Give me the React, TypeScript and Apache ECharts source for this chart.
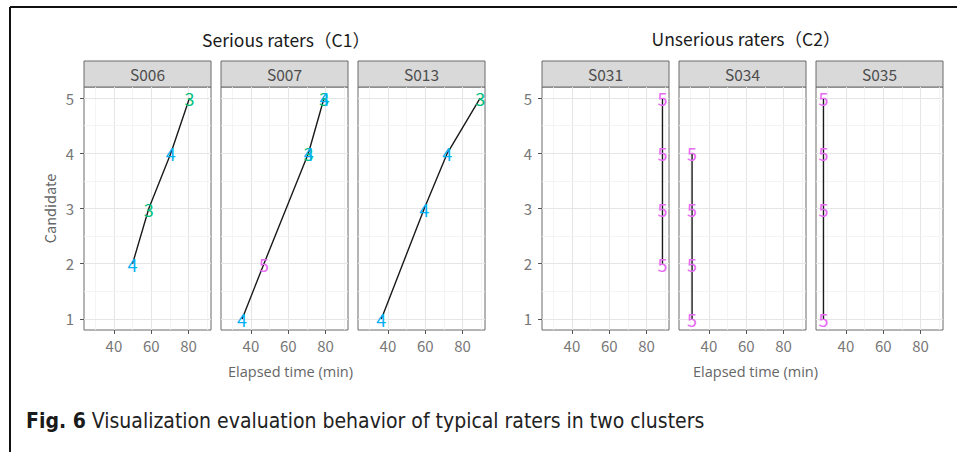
import React, { useEffect, useRef } from "react";
import * as echarts from "echarts";

// ---- data ----
const panelNames = ["S006", "S007", "S013", "S031", "S034", "S035"];
const groupTitles = ["Serious raters（C1）", "Unserious raters（C2）"];
const xAxisTitle = "Elapsed time (min)";
const yAxisTitle = "Candidate";
const captionBold = "Fig. 6";
const captionText = " Visualization evaluation behavior of typical raters in two clusters";

const xTicks = [40, 60, 80];
const yTicks = [1, 2, 3, 4, 5];
const xMinorGrid = [30, 50, 70, 90];
const yMinorGrid = [1.5, 2.5, 3.5, 4.5];

const s006Time = [50, 58.7, 70.5, 80.5];
const s006Cand = [2, 3, 4, 5];
const s006Score = [4, 3, 4, 3];

const s007Time = [35.3, 47, 70.8, 71, 79.2, 79.4];
const s007Cand = [1, 2, 4, 4, 5, 5];
const s007Score = [4, 5, 3, 4, 3, 4];

const s013Time = [36.5, 59.5, 71.8, 89.4];
const s013Cand = [1, 3, 4, 5];
const s013Score = [4, 4, 4, 3];

const s031Time = [88.5, 88.5, 88.5, 88.5];
const s031Cand = [2, 3, 4, 5];
const s031Score = [5, 5, 5, 5];

const s034Time = [31, 31, 31, 31];
const s034Cand = [1, 2, 3, 4];
const s034Score = [5, 5, 5, 5];

const s035Time = [28, 28, 28, 28];
const s035Cand = [1, 3, 4, 5];
const s035Score = [5, 5, 5, 5];

const scoreColors: Record<number, string> = {
  1: "#F8766D",
  2: "#A3A500",
  3: "#00BF7D",
  4: "#00B0F6",
  5: "#E76BF3",
};

const panelData = [
  [s006Time, s006Cand, s006Score],
  [s007Time, s007Cand, s007Score],
  [s013Time, s013Cand, s013Score],
  [s031Time, s031Cand, s031Score],
  [s034Time, s034Cand, s034Score],
  [s035Time, s035Cand, s035Score],
];

// ---- layout ----
const W = 957;
const H = 452;
const gridLefts = [84, 221, 358, 542, 679, 816];
const gridW = 127;
const gridTop = 87;
const gridH = 243;
const stripTop = 61;
const FONT = "'Noto Sans CJK JP', 'Noto Sans', sans-serif";
const CAP_FONT = "'Liberation Sans Narrow', 'DejaVu Sans Condensed', sans-serif";

export default function App() {
  const ref = useRef<HTMLDivElement>(null);
  useEffect(() => {
    document.body.style.margin = "0";
    const chart = echarts.init(ref.current!, undefined, { renderer: "svg" });

    const grids = gridLefts.map((l) => ({
      left: l,
      top: gridTop,
      width: gridW,
      height: gridH,
      show: true,
      borderColor: "#6a6a6a",
      borderWidth: 1,
      backgroundColor: "#fff",
    }));

    const xAxes = gridLefts.map((_, i) => ({
      type: "value",
      gridIndex: i,
      min: 24,
      max: 92,
      axisLine: { show: false },
      splitLine: { show: false },
      axisTick: { show: true, length: 4, lineStyle: { color: "#555" }, customValues: xTicks },
      axisLabel: {
        show: true,
        customValues: xTicks,
        margin: 8,
        color: "#777",
        fontSize: 15,
        fontFamily: FONT,
      },
      name: i === 1 || i === 4 ? xAxisTitle : "",
      nameLocation: "middle",
      nameGap: 34,
      nameTextStyle: {
        color: "#666",
        fontSize: 14.5,
        fontFamily: "'Open Sans', sans-serif",
        padding: i === 1 ? [0, 0, 0, 12] : [0, 0, 0, 26],
      },
    }));

    const yAxes = gridLefts.map((_, i) => {
      const first = i === 0 || i === 3;
      return {
        type: "value",
        gridIndex: i,
        min: 0.8,
        max: 5.2,
        axisLine: { show: false },
        splitLine: { show: false },
        axisTick: { show: first, length: 4, lineStyle: { color: "#555" }, customValues: yTicks },
        axisLabel: {
          show: first,
          customValues: yTicks,
          margin: 10,
          color: "#777",
          fontSize: 15,
          fontFamily: FONT,
        },
        name: i === 0 ? yAxisTitle : "",
        nameLocation: "middle",
        nameRotate: 90,
        nameGap: 27,
        nameTextStyle: { color: "#666", fontSize: 14.5, fontFamily: FONT },
      };
    });

    const gridLines = [
      ...xTicks.map((v) => ({ xAxis: v, lineStyle: { color: "#E6E6E6", width: 1.1, type: "solid" } })),
      ...xMinorGrid.map((v) => ({ xAxis: v, lineStyle: { color: "#F1F1F1", width: 0.8, type: "solid" } })),
      ...yTicks.map((v) => ({ yAxis: v, lineStyle: { color: "#E6E6E6", width: 1.1, type: "solid" } })),
      ...yMinorGrid.map((v) => ({ yAxis: v, lineStyle: { color: "#F1F1F1", width: 0.8, type: "solid" } })),
    ];

    const series: any[] = [];
    panelData.forEach(([times, cands, scores], i) => {
      series.push({
        type: "line",
        xAxisIndex: i,
        yAxisIndex: i,
        data: times.map((t, k) => [t, cands[k]]),
        symbol: "none",
        z: 3,
        lineStyle: { color: "#1a1a1a", width: 1.4 },
        markLine: {
          silent: true,
          symbol: "none",
          z: 1,
          label: { show: false },
          lineStyle: { type: "solid" },
          emphasis: { disabled: true },
          data: gridLines,
        },
      });
      series.push({
        type: "scatter",
        xAxisIndex: i,
        yAxisIndex: i,
        symbolSize: 2,
        z: 4,
        itemStyle: { color: "rgba(0,0,0,0)" },
        data: times.map((t, k) => ({
          value: [t, cands[k], scores[k]],
          label: { color: scoreColors[scores[k]] },
        })),
        label: {
          show: true,
          position: "inside",
          formatter: (p: any) => String(p.value[2]),
          fontSize: 18,
          fontFamily: FONT,
          textBorderWidth: 0,
          opacity: 1,
        },
        labelLayout: { hideOverlap: false },
      });
    });

    const graphics: any[] = [];
    // frame
    graphics.push({ type: "line", shape: { x1: 10, y1: 7, x2: W, y2: 7 }, style: { stroke: "#111", lineWidth: 2 } });
    graphics.push({ type: "line", shape: { x1: 10, y1: 7, x2: 10, y2: H }, style: { stroke: "#111", lineWidth: 2 } });
    // strips
    panelNames.forEach((n, i) => {
      graphics.push({
        type: "rect",
        shape: { x: gridLefts[i], y: stripTop, width: gridW, height: gridTop - stripTop },
        style: { fill: "#D9D9D9", stroke: "#6a6a6a", lineWidth: 1 },
      });
      graphics.push({
        type: "text",
        x: gridLefts[i] + gridW / 2,
        y: (stripTop + gridTop) / 2,
        style: {
          text: n,
          fill: "#4d4d4d",
          fontSize: 15.5,
          fontFamily: FONT,
          align: "center",
          verticalAlign: "middle",
        },
      });
    });
    // group titles
    graphics.push({
      type: "text",
      x: 286,
      y: 39,
      style: { text: groupTitles[0], fill: "#1a1a1a", fontSize: 17.5, fontFamily: FONT, align: "center", verticalAlign: "middle" },
    });
    graphics.push({
      type: "text",
      x: 746,
      y: 38,
      style: { text: groupTitles[1], fill: "#1a1a1a", fontSize: 17.5, fontFamily: FONT, align: "center", verticalAlign: "middle" },
    });
    // caption
    graphics.push({
      type: "text",
      x: 26,
      y: 421,
      style: {
        text: "{b|" + captionBold + "}{r|" + captionText + "}",
        verticalAlign: "middle",
        rich: {
          b: { fontSize: 21, fontWeight: "bold", fontFamily: CAP_FONT, fill: "#1a1a1a" },
          r: { fontSize: 21, fontFamily: CAP_FONT, fill: "#222" },
        },
      },
    });

    chart.setOption({
      animation: false,
      backgroundColor: "#fff",
      grid: grids,
      xAxis: xAxes,
      yAxis: yAxes,
      series,
      graphic: graphics,
    });
    return () => chart.dispose();
  }, []);
  return <div ref={ref} style={{ width: W, height: H }} />;
}
